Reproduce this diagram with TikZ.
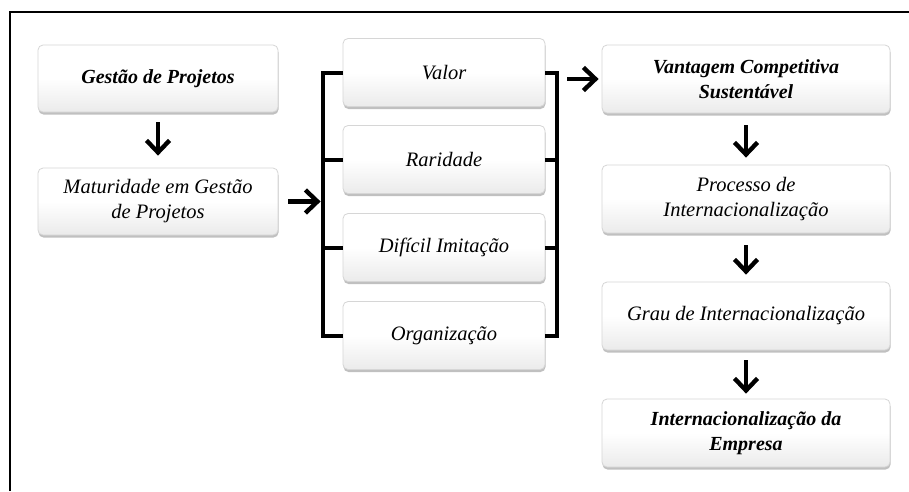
\documentclass[tikz,border=0pt]{standalone}
\usepackage{fontspec}
\setmainfont{Liberation Serif}
\usetikzlibrary{arrows.meta,shadows}

\tikzset{
  card/.style={
    draw=black!16, line width=0.8pt, rounded corners=5pt,
    top color=white, bottom color=black!8, middle color=white,
    drop shadow={shadow xshift=0.5pt, shadow yshift=-2.5pt, opacity=0.35, fill=black!70},
    align=center, inner sep=2pt,
    font=\fontsize{20.5}{25}\selectfont\itshape
  },
  leftcard/.style={card, minimum width=240pt, minimum height=67pt},
  midcard/.style={card, minimum width=202pt, minimum height=68pt},
  rightcard/.style={card, minimum width=288pt, minimum height=68pt},
  key/.style={font=\fontsize{20}{25}\selectfont\bfseries\itshape},
  flow/.style={line width=4.4pt, -{Straight Barb[length=12pt,width=23pt]}},
  brace/.style={line width=4pt},
  frame/.style={line width=2.6pt}
}

\begin{document}
\begin{tikzpicture}[x=1pt,y=-1pt]
  \useasboundingbox (0,0) rectangle (909,491);
  \fill[white] (0,0) rectangle (909,491);

  % open frame: top and left edges
  \draw[frame] (10,491) -- (10,12) -- (909,12);

  % left column
  \node[leftcard, key] (gp) at (158,78.5) {Gestão de Projetos};
  \node[leftcard] (mat) at (158,201.5) {Maturidade em Gestão\\de Projetos};

  % resource attributes
  \node[midcard] (valor) at (444,72.5) {Valor};
  \node[midcard] (rar) at (444,159.5) {Raridade};
  \node[midcard] (dif) at (444,247.5) {Difícil Imitação};
  \node[midcard] (org) at (444,335.5) {Organização};

  % right column
  \node[rightcard, key] (vcs) at (746,79) {Vantagem Competitiva\\Sustentável};
  \node[rightcard] (proc) at (746,199) {Processo de\\Internacionalização};
  \node[rightcard] (grau) at (746,316) {Grau de Internacionalização};
  \node[rightcard, key] (inter) at (746,433) {Internacionalização da\\Empresa};

  % left bracket joining the four attributes
  \draw[brace] (valor.west) -- ++(-20,0) coordinate (lt) |- (org.west);
  \draw[brace] (rar.west) -- ++(-20,0);
  \draw[brace] (dif.west) -- ++(-20,0);
  \coordinate (lin) at (lt |- mat.east);

  % right bracket
  \draw[brace] (valor.east) -- ++(12,0) coordinate (rt) |- (org.east);
  \draw[brace] (rar.east) -- ++(12,0);
  \draw[brace] (dif.east) -- ++(12,0);
  \coordinate (rout) at (rt |- vcs.west);

  % arrows
  \draw[flow, shorten <=10pt, shorten >=12pt] (gp.south) -- (mat.north);
  \draw[flow, shorten <=10pt, shorten >=2pt] (mat.east) -- (lin);
  \draw[flow, shorten <=10pt, shorten >=3pt] (rout) -- (vcs.west);
  \draw[flow, shorten <=12pt, shorten >=7pt] (vcs.south) -- (proc.north);
  \draw[flow, shorten <=12pt, shorten >=7pt] (proc.south) -- (grau.north);
  \draw[flow, shorten <=10pt, shorten >=5pt] (grau.south) -- (inter.north);
\end{tikzpicture}
\end{document}
